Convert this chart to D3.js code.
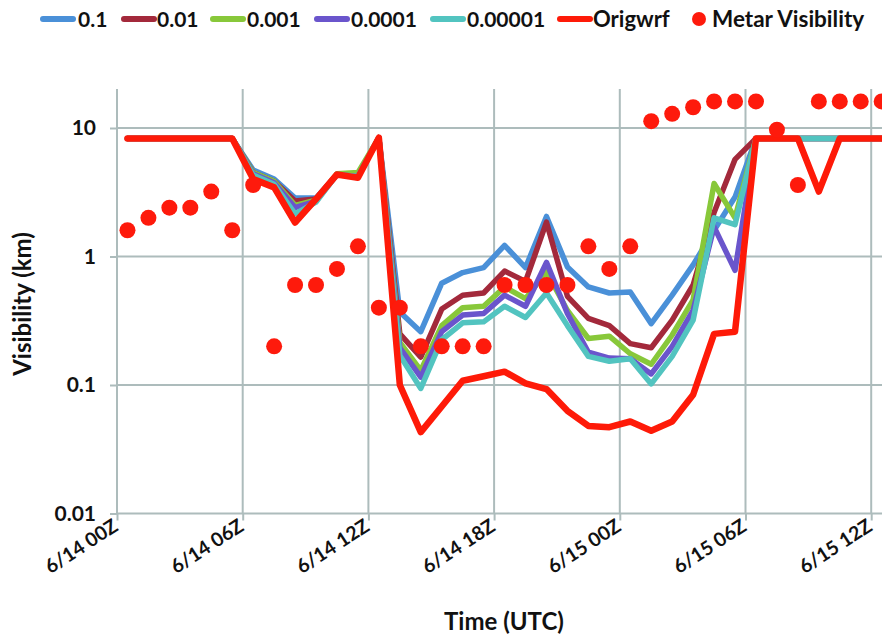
<!DOCTYPE html>
<html>
<head>
<meta charset="utf-8">
<script src="https://cdn.jsdelivr.net/npm/d3@7"></script>
<style>
  body { margin: 0; background: #fff; }
  svg { display: block; }
  text { font-family: Lato, "Noto Sans", sans-serif; font-weight: 700; fill: #111; }
</style>
</head>
<body>
<svg id="chart" width="882" height="634"></svg>
<script>
// Hourly model/obs times (category axis)
const categories = [
  "6/14 00Z","6/14 01Z","6/14 02Z","6/14 03Z","6/14 04Z","6/14 05Z",
  "6/14 06Z","6/14 07Z","6/14 08Z","6/14 09Z","6/14 10Z","6/14 11Z",
  "6/14 12Z","6/14 13Z","6/14 14Z","6/14 15Z","6/14 16Z","6/14 17Z",
  "6/14 18Z","6/14 19Z","6/14 20Z","6/14 21Z","6/14 22Z","6/14 23Z",
  "6/15 00Z","6/15 01Z","6/15 02Z","6/15 03Z","6/15 04Z","6/15 05Z",
  "6/15 06Z","6/15 07Z","6/15 08Z","6/15 09Z","6/15 10Z","6/15 11Z",
  "6/15 12Z"
];
const xTickLabels = ["6/14 00Z","6/14 06Z","6/14 12Z","6/14 18Z","6/15 00Z","6/15 06Z","6/15 12Z"];
const yTickValues = [0.01, 0.1, 1, 10];
const yTickLabels = ["0.01", "0.1", "1", "10"];

// Visibility (km) for each threshold run
const vis01 = [8.3,8.3,8.3,8.3,8.3,8.3, 4.7,4.0,2.85,2.85,4.35,4.2, 8.4,0.37,0.26,0.62,0.75,0.82,
  1.22,0.82,2.05,0.83,0.58,0.52, 0.53,0.30,0.50,0.86,1.6,2.9, 8.3,8.3,8.3,8.3,8.3,8.3, 8.3];
const vis001 = [8.3,8.3,8.3,8.3,8.3,8.3, 4.5,3.85,2.7,2.8,4.35,4.2, 8.4,0.25,0.165,0.39,0.50,0.52,
  0.77,0.64,1.85,0.49,0.33,0.29, 0.21,0.195,0.32,0.60,2.2,5.7, 8.3,8.3,8.3,8.3,8.3,8.3, 8.3];
const vis0001 = [8.3,8.3,8.3,8.3,8.3,8.3, 4.5,3.85,2.5,2.75,4.4,4.5, 8.4,0.215,0.13,0.29,0.40,0.41,
  0.58,0.47,0.76,0.38,0.23,0.24, 0.175,0.145,0.245,0.46,3.7,2.0, 8.3,8.3,8.3,8.3,8.3,8.3, 8.3];
const vis00001 = [8.3,8.3,8.3,8.3,8.3,8.3, 4.4,3.75,2.4,2.7,4.35,4.2, 8.4,0.195,0.115,0.26,0.35,0.36,
  0.50,0.41,0.90,0.36,0.18,0.162, 0.16,0.122,0.20,0.38,1.7,0.78, 8.3,8.3,8.3,8.3,8.3,8.3, 8.3];
const vis000001 = [8.3,8.3,8.3,8.3,8.3,8.3, 4.3,3.65,2.15,2.65,4.35,4.2, 8.4,0.17,0.094,0.225,0.305,0.31,
  0.41,0.335,0.52,0.29,0.167,0.153, 0.16,0.102,0.167,0.32,2.0,1.77, 8.3,8.3,8.3,8.3,8.3,8.3, 8.3];
const visOrig = [8.3,8.3,8.3,8.3,8.3,8.3, 4.0,3.45,1.84,2.8,4.35,4.1, 8.4,0.1,0.043,0.068,0.108,0.117,
  0.127,0.103,0.093,0.063,0.048,0.047, 0.052,0.044,0.052,0.084,0.25,0.26, 8.3,8.3,8.3,3.2,8.3,8.3, 8.3];
const metar = [1.6,2.0,2.4,2.4,3.2,1.6, 3.6,0.2,0.6,0.6,0.8,1.2, 0.4,0.4,0.2,0.2,0.2,0.2,
  0.6,0.6,0.6,0.6,1.2,0.8, 1.2,11.3,12.9,14.5,16.1,16.1, 16.1,9.7,3.6,16.1,16.1,16.1, 16.1];

const seriesNames = ["0.1", "0.01", "0.001", "0.0001", "0.00001", "Origwrf"];
const seriesColors = ["#4a90d8", "#a3293b", "#88c83a", "#6a55cc", "#52c4c0", "#fe1a08"];
const seriesData = [vis01, vis001, vis0001, vis00001, vis000001, visOrig];
const metarName = "Metar Visibility";
const metarColor = "#fe1a0c";

const svg = d3.select("#chart");
const W = 882, H = 634;
const plot = { left: 117, top: 89, bottom: 513.5, right: 882 };
const band = 20.95;

const x = d3.scaleLinear()
  .domain([0, categories.length])
  .range([plot.left, plot.left + band * categories.length]);
const y = d3.scaleLog()
  .domain([0.01, 10])
  .range([plot.bottom, plot.bottom - 3 * 128.5]);

const gridColor = "#adbcbc";

svg.append("defs").append("clipPath").attr("id", "plotclip")
  .append("rect").attr("x", plot.left - 10).attr("y", plot.top - 20)
  .attr("width", W - plot.left + 10).attr("height", plot.bottom - plot.top + 40);

// Horizontal gridlines
svg.append("g").selectAll("line").data(yTickValues).join("line")
  .attr("x1", plot.left).attr("x2", plot.right)
  .attr("y1", d => y(d)).attr("y2", d => y(d))
  .attr("stroke", gridColor).attr("stroke-width", 2);

// Vertical gridlines at every sixth hour
const xTickIdx = xTickLabels.map(l => categories.indexOf(l));
svg.append("g").selectAll("line").data(xTickIdx).join("line")
  .attr("x1", d => x(d)).attr("x2", d => x(d))
  .attr("y1", plot.top).attr("y2", plot.bottom)
  .attr("stroke", gridColor).attr("stroke-width", 2);

// Y axis
const yAxis = svg.append("g")
  .attr("transform", `translate(${plot.left},0)`)
  .call(d3.axisLeft(y).tickValues(yTickValues)
    .tickFormat((d, i) => yTickLabels[i]).tickSize(7).tickPadding(14));
yAxis.select(".domain").remove();
yAxis.selectAll("line").attr("stroke", gridColor).attr("stroke-width", 2);
yAxis.selectAll("text").attr("font-size", 21).attr("fill", "#111")
  .style("font-family", "Lato, 'Noto Sans', sans-serif").style("font-weight", 700);

// X axis
const xAxis = svg.append("g")
  .attr("transform", `translate(0,${plot.bottom})`)
  .call(d3.axisBottom(x).tickValues(xTickIdx)
    .tickFormat((d, i) => xTickLabels[i]).tickSize(7).tickPadding(6));
xAxis.select(".domain").remove();
xAxis.selectAll("line").attr("stroke", gridColor).attr("stroke-width", 2);
xAxis.selectAll("text")
  .attr("font-size", 19.5).attr("fill", "#111")
  .style("font-family", "Lato, 'Noto Sans', sans-serif").style("font-weight", 700)
  .attr("text-anchor", "end")
  .attr("dy", 0).attr("y", 0)
  .attr("transform", "translate(2,16) rotate(-33)");

// Axis titles
svg.append("text").attr("x", 504).attr("y", 630)
  .attr("text-anchor", "middle").attr("font-size", 24).text("Time (UTC)");
svg.append("text")
  .attr("transform", "translate(31,304) rotate(-90)")
  .attr("text-anchor", "middle").attr("font-size", 24).text("Visibility (km)");

// Series lines
const g = svg.append("g").attr("clip-path", "url(#plotclip)");
const line = d3.line().x((d, i) => x(i + 0.5)).y(d => y(d));
seriesData.forEach((arr, k) => {
  g.append("path").datum(arr)
    .attr("fill", "none")
    .attr("stroke", seriesColors[k])
    .attr("stroke-width", k === 5 ? 6.5 : 5.5)
    .attr("stroke-linejoin", "round")
    .attr("stroke-linecap", "round")
    .attr("d", line);
});

// METAR observations
g.append("g").selectAll("circle").data(metar).join("circle")
  .attr("cx", (d, i) => x(i + 0.5)).attr("cy", d => y(d))
  .attr("r", 8).attr("fill", metarColor);

// Legend
const legendItems = [
  { name: "0.1", sx: 40, tx: 78, fs: 21 },
  { name: "0.01", sx: 121, tx: 157, fs: 21 },
  { name: "0.001", sx: 210, tx: 247, fs: 21 },
  { name: "0.0001", sx: 314, tx: 351, fs: 21 },
  { name: "0.00001", sx: 430, tx: 467, fs: 21 },
  { name: "Origwrf", sx: 557, tx: 593, fs: 22 }
];
const lg = svg.append("g");
legendItems.forEach((it, k) => {
  lg.append("line").attr("x1", it.sx + 3).attr("x2", it.sx + 33)
    .attr("y1", 19).attr("y2", 19)
    .attr("stroke", seriesColors[seriesNames.indexOf(it.name)])
    .attr("stroke-width", 6).attr("stroke-linecap", "round");
  lg.append("text").attr("x", it.tx).attr("y", 27).attr("font-size", it.fs).text(it.name);
});
lg.append("circle").attr("cx", 699).attr("cy", 19).attr("r", 7).attr("fill", metarColor);
lg.append("text").attr("x", 712).attr("y", 27).attr("font-size", 22.5).text(metarName);
</script>
</body>
</html>
